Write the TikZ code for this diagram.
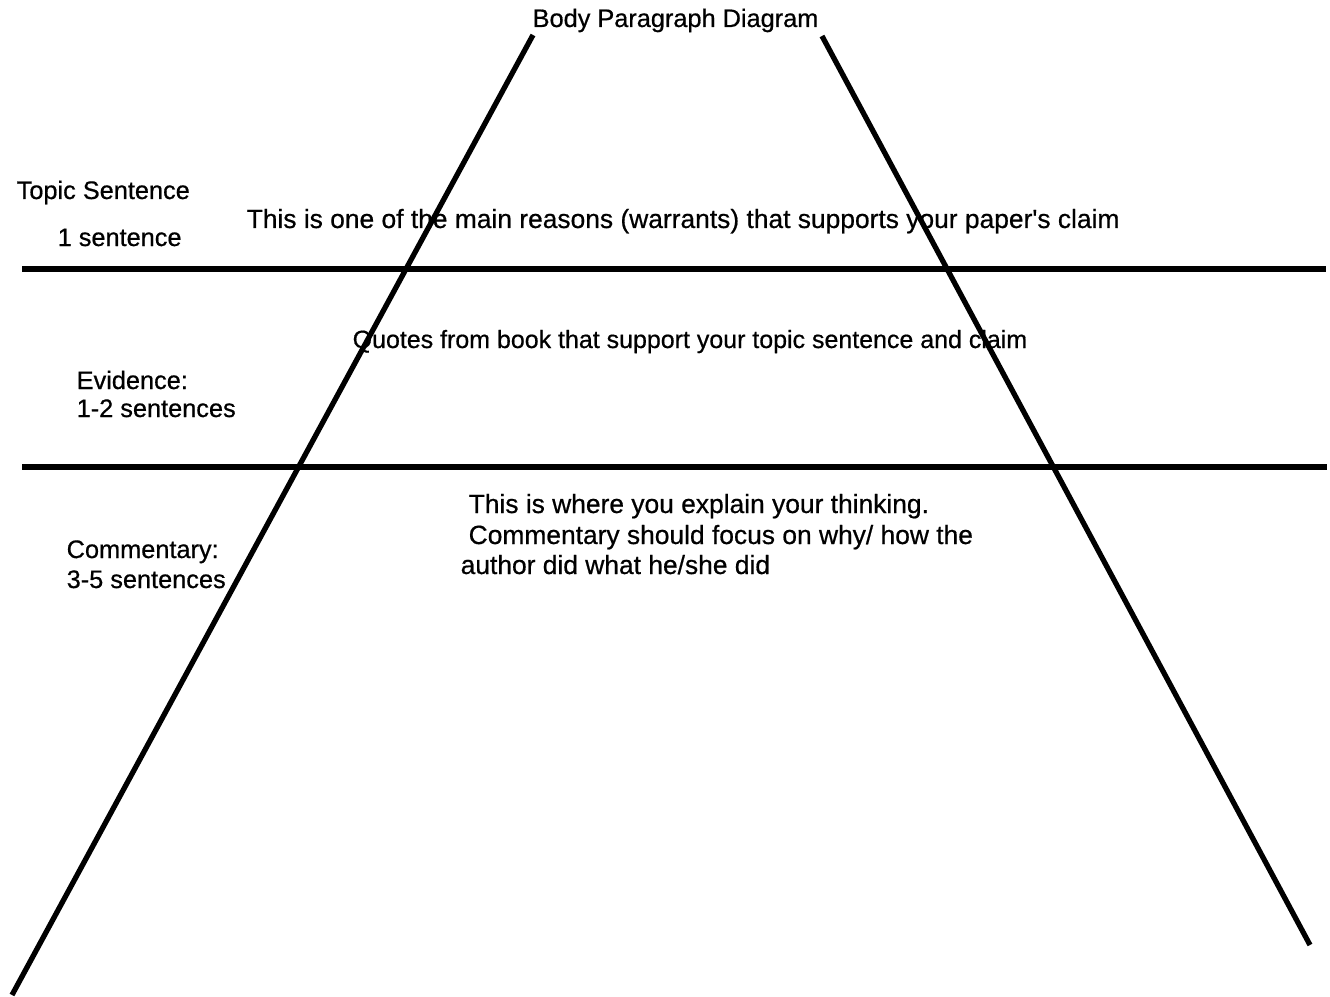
\documentclass[tikz,border=0pt]{standalone}
\usepackage{fontspec}
\setmainfont{Liberation Sans}[Ligatures=TeXOff, FakeBold=0.6]
\begin{document}
\begin{tikzpicture}[x=0.01cm, y=-0.01cm,
  rule/.style={line width=1.5pt},
  lbl/.style={anchor=base west, inner sep=0pt, font=\fontsize{7.2}{8}\selectfont},
  big/.style={lbl, font=\fontsize{7.5}{8}\selectfont}]
  \useasboundingbox (0,0) rectangle (1330,997);

  % slanted sides and the two rules
  \coordinate (lt) at (533,35);
  \coordinate (lb) at (12,995);
  \coordinate (rt) at (822,36);
  \coordinate (rb) at (1310,945);
  \coordinate (h1l) at (22,269);
  \coordinate (h1r) at (1326,269);
  \coordinate (h2l) at (22,467);
  \coordinate (h2r) at (1327,467);

  \draw[rule] (lt) -- (lb);
  \draw[rule] (rt) -- (rb);
  \draw[rule] (h1l) -- (h1r);
  \draw[rule] (h2l) -- (h2r);

  \node[lbl] (title) at (532,27) {Body Paragraph Diagram};

  \node[lbl] (topic) at (16,199) {Topic Sentence};
  \node[lbl] (topicn) at (57,246) {1 sentence};
  \node[big] (topict) at (246,228) {This is one of the main reasons (warrants) that supports your paper's claim};

  \node[lbl] (evid) at (76,389) {Evidence:};
  \node[lbl] (evidn) at (76,417) {1-2 sentences};
  \node[lbl, font=\fontsize{7.1}{8}\selectfont] (evidt) at (352,348) {Quotes from book that support your topic sentence and claim};

  \node[lbl] (comm) at (66,558) {Commentary:};
  \node[lbl] (commn) at (66,588) {3-5 sentences};
  \node[big] (commt1) at (468,513) {This is where you explain your thinking.};
  \node[big] (commt2) at (468,544) {Commentary should focus on why/ how the};
  \node[big] (commt3) at (460,574) {author did what he/she did};
\end{tikzpicture}
\end{document}
